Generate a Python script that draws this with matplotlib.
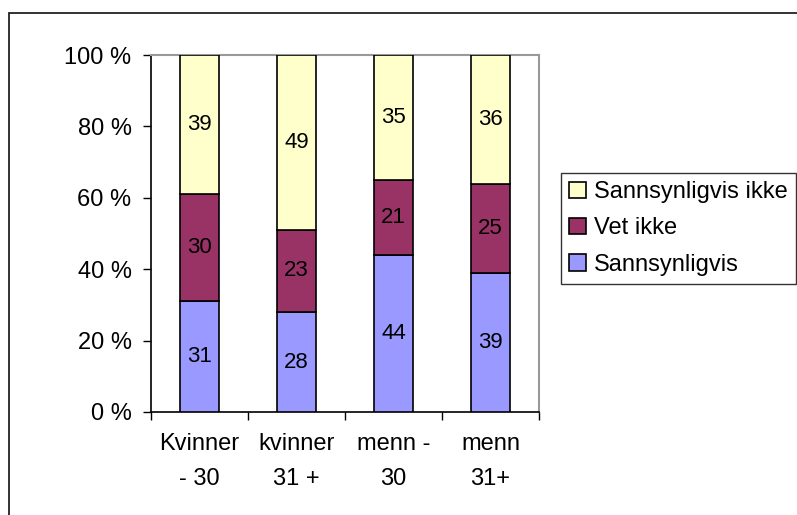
import matplotlib
matplotlib.use("Agg")
import matplotlib.pyplot as plt
from matplotlib.patches import Rectangle
import numpy as np

plt.rcParams['font.family'] = ['Liberation Sans', 'DejaVu Sans']

categories = ["Kvinner\n- 30", "kvinner\n31 +", "menn -\n30", "menn\n31+"]
sannsynligvis = [31, 28, 44, 39]
vet_ikke = [30, 23, 21, 25]
sannsynligvis_ikke = [39, 49, 35, 36]
series_names = ["Sannsynligvis", "Vet ikke", "Sannsynligvis ikke"]
colors = ["#9999FF", "#993366", "#FFFFCC"]
yticks = [0, 20, 40, 60, 80, 100]
ytick_labels = ["0 %", "20 %", "40 %", "60 %", "80 %", "100 %"]

W, H = 797, 515
fig = plt.figure(figsize=(W / 100, H / 100), dpi=100)
fig.patch.set_facecolor("white")

# outer chart border
fig.add_artist(Rectangle((9 / W, -0.1), 1.2, (515 - 13) / H + 0.1,
                         transform=fig.transFigure, fill=False,
                         edgecolor="#222222", linewidth=1.3))

ax = fig.add_axes([151 / W, (H - 412) / H, (539 - 151) / W, (412 - 55) / H])
x = np.arange(len(categories))
width = 0.41
bottom = np.zeros(len(categories))
handles = []
for vals, name, col in zip([sannsynligvis, vet_ikke, sannsynligvis_ikke], series_names, colors):
    bars = ax.bar(x, vals, width, bottom=bottom, color=col, edgecolor="black",
                  linewidth=1.2, label=name, zorder=3)
    for xi, b, v in zip(x, bottom, vals):
        ax.text(xi, b + v / 2, str(v), ha="center", va="center", fontsize=16, zorder=4)
    bottom = bottom + np.array(vals)
    handles.append(bars)

ax.set_xlim(-0.5, len(categories) - 0.5)
ax.set_ylim(0, 100)
ax.set_yticks(yticks)
ax.set_yticklabels(ytick_labels, fontsize=17)
ax.set_xticks(np.arange(len(categories) + 1) - 0.5)
ax.set_xticklabels([])
ax.set_xticks(x, minor=True)
ax.set_xticklabels(categories, minor=True, fontsize=17, linespacing=1.75)
ax.tick_params(axis="x", which="minor", length=0, pad=15)
ax.tick_params(axis="x", which="major", length=6, width=1, direction="out")
ax.tick_params(axis="y", length=6, width=1, direction="out", pad=8)

for s in ["top", "right"]:
    ax.spines[s].set_color("#999999")
    ax.spines[s].set_linewidth(1.5)
for s in ["left", "bottom"]:
    ax.spines[s].set_color("black")
    ax.spines[s].set_linewidth(1.2)

leg = fig.legend(handles[::-1], series_names[::-1], loc="upper left",
                 bbox_to_anchor=(561 / W, 1 - 173 / H), fontsize=17,
                 frameon=True, fancybox=False, edgecolor="black",
                 handlelength=0.7, handleheight=0.7, handletextpad=0.35,
                 borderpad=0.35, labelspacing=0.6, borderaxespad=0)
leg.get_frame().set_linewidth(1.0)

fig.savefig("out.png", dpi=100, facecolor="white")
